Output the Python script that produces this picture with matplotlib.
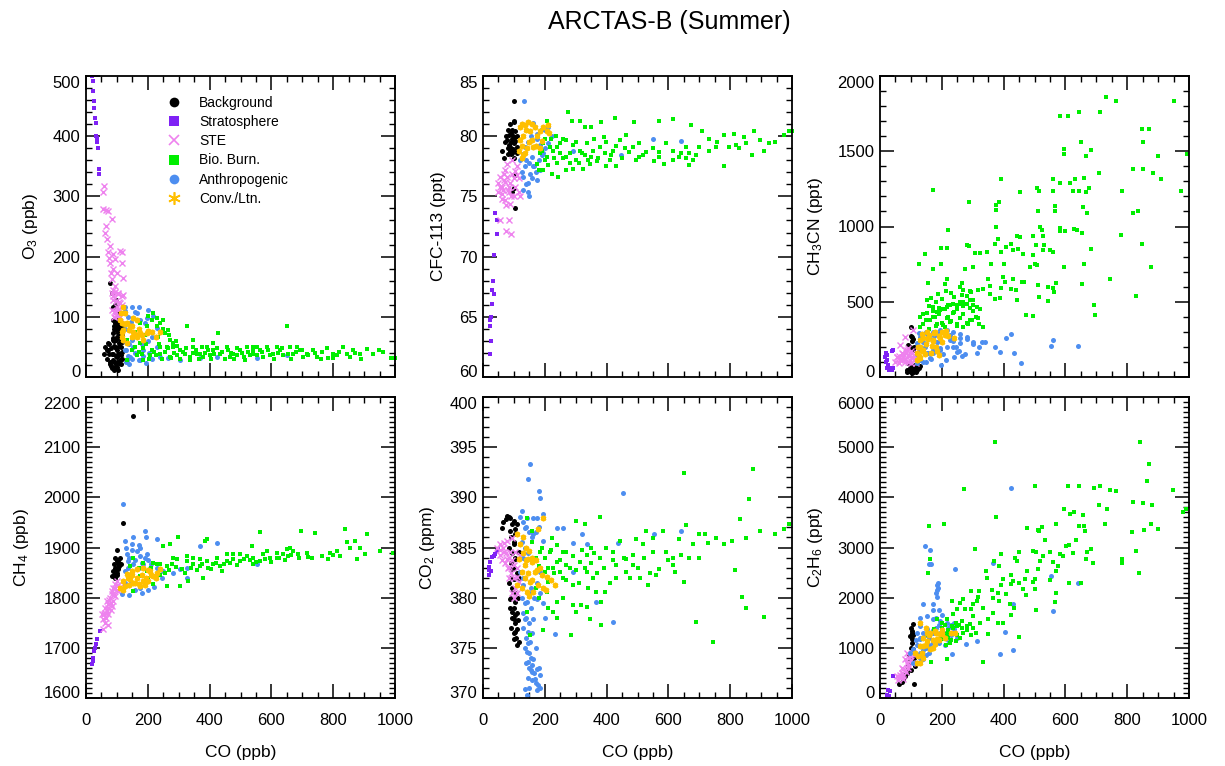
import matplotlib
matplotlib.use("Agg")
import matplotlib.pyplot as plt
from matplotlib.lines import Line2D
from matplotlib.ticker import MultipleLocator

plt.rcParams['font.family'] = ['Liberation Sans', 'DejaVu Sans']
plt.rcParams['mathtext.default'] = 'regular'

# categories (legend order)
categories = ['Background', 'Stratosphere', 'STE', 'Bio. Burn.', 'Anthropogenic', 'Conv./Ltn.']

# ---- O3 vs CO  (CO ppb, O3 ppb) ----
o3_bkg = [(78,156),(83,140),(88,117),(94,95),(99,84),(105,89),(88,73),(99,67),(107,56),(94,50),
          (83,39),(99,34),(108,39),(88,28),(78,22),(94,17),(101,25),(67,45),(61,50),(58,39),
          (72,56),(106,106),(97,128),(105,73),(91,84),(86,61),(110,28),(105,11),(83,17),
          (100,100),(95,120),(103,110),(92,60),(100,45),(108,70),
          (88,95),(95,90),(103,92),(110,88),(90,80),(98,78),(106,80),(113,76),(88,65),(96,62),
          (104,66),(112,62),(90,52),(98,48),(106,52),(114,50),(88,38),(96,35),(104,38),(112,36),
          (90,25),(98,22),(106,24),(113,22),(84,15),(92,12),(100,16),(70,45),(75,38),(68,30),
          (78,25),(74,55),(80,48),(80,18),(115,30),(117,42),(116,58),(118,70),(117,85)]
o3_strat = [(18,500),(24,492),(22,475),(26,458),(27,447),(29,430),(31,422),(33,400),(35,397),
            (37,391),(40,380),(43,346),(43,338)]
o3_ste = [(58,318),(54,307),(56,279),(65,277),(72,276),(83,263),(65,251),(61,240),(69,229),(78,218),
          (72,207),(86,204),(110,210),(115,208),(115,190),(94,196),(78,190),(88,179),(99,173),(119,165),
          (83,162),(94,151),(105,140),(121,137),(88,134),(99,117),(110,123),(94,106),(105,101),(88,145),
          (80,173),(75,198),(85,140),(95,142),(105,138),(115,135),(88,128),(98,126),(108,124),(118,120),
          (85,112),(95,110),(105,112),(115,108),(90,100),(100,102),(110,99)]
o3_bio = [(132,61),(132,28),(148,45),(164,36),(175,56),(180,39),(196,84),(202,101),(218,106),(229,84),
          (239,89),(250,95),(233,67),(256,73),(266,78),(220,42),(239,39),(261,50),(283,50),(304,45),
          (326,84),(321,39),(347,50),(369,39),(390,50),(412,45),(428,73),(434,39),(455,50),(477,39),
          (499,45),(520,50),(542,39),(563,45),(585,50),(606,39),(628,45),(649,84),(661,50),(671,39),
          (693,45),(714,39),(736,45),(763,42),(784,31),(800,39),(833,50),(844,39),(865,45),(887,39),
          (909,47),(949,45),(986,31),(1000,31),(207,36),(186,28),(272,34),(294,36),(337,34),(358,39),
          (380,34),(401,36),(466,34),(488,36),(510,34),(531,36),(553,50),(574,34),(595,36),(617,50),
          (639,36),(682,50),(703,34),(747,34),(811,36),(855,34),(930,39),(800,31),(542,50),(412,56),
          (347,61),(283,56),(272,61),(239,50),(212,95),
          (160,50),(170,42),(185,48),(195,55),(205,30),(215,45),(225,36),(235,55),(245,30),(255,42),
          (265,48),(275,32),(285,40),(295,52),(305,30),(315,42),(325,48),(335,28),(345,40),(355,45),
          (365,30),(375,50),(385,40),(395,45),(405,30),(415,38),(425,48),(440,42),(450,30),(460,45),
          (470,40),(480,30),(490,48),(505,40),(515,28),(525,42),(540,45),(555,36),(570,42),(590,45),
          (610,30),(620,40),(635,48),(655,38),(665,30),(680,42),(700,45),(720,36),(740,40),(760,30),
          (780,48),(820,42),(870,40),(890,30),(960,42),(160,75),(175,90),(190,70),(230,98),(250,80),
          (270,70),(290,60)]
o3_anth = [(126,117),(148,116),(172,116),(202,112),(164,106),(196,98),(218,101),(126,45),(142,34),(175,28),
           (207,31),(239,34),(266,31),(186,45),(229,50),(132,28),(153,50),(202,59),(304,28),(369,31),
           (423,34),(553,31),(649,36),(229,81),(212,67),
           (125,110),(135,100),(145,92),(160,108),(175,95),(190,90),(125,60),(130,45),(135,35),(128,25),
           (140,22),(150,30),(160,40),(170,28),(185,35),(195,24),(205,40),(215,30),(140,55),(150,62),
           (180,55),(125,80)]
o3_conv = [(119,117),(126,106),(110,95),(132,89),(121,78),(142,84),(153,75),(164,95),(175,73),(196,73),
           (212,75),(186,61),(148,67),(115,67),(132,56),(164,67),(153,98),(112,106),
           (115,90),(118,75),(125,88),(140,78),(150,84),(160,72),(170,80),(180,70),(200,76),(225,66),
           (240,74),(120,62)]

# ---- CFC-113 vs CO (ppt) ----
cfc_bkg = [(101,82.9),(99,81.3),(104,80.4),(109,80.0),(77,79.7),(61,78.8),(67,78.2),(88,79.1),(104,78.8),
           (93,78.6),(83,80.1),(99,79.4),(109,78.6),(104,76.8),(99,75.7),(104,74.0),(93,75.4),(110,79.1),
           (90,80.3),(95,79.8),(85,79.3),(100,78.2),(80,78.5),
           (75,80.0),(82,80.5),(88,81.0),(95,80.5),(100,81.2),(92,79.5),(98,80.0),(105,79.6),(80,79.0),
           (86,78.8),(92,78.5),(98,78.9),(70,79.5),(104,79.9)]
cfc_strat = [(24,61.9),(26,63.0),(24,64.2),(26,65.0),(29,66.1),(34,66.9),(32,68.0),(34,70.1),(45,71.9),
             (45,73.0),(40,73.6),(24,64.7),(29,67.2)]
cfc_ste = [(50,76.1),(56,75.8),(67,76.4),(77,76.6),(88,76.1),(104,75.8),(115,75.4),(61,75.2),(72,74.7),
           (88,74.4),(99,75.0),(109,77.5),(77,77.7),(93,78.0),(67,76.9),(50,75.4),(56,73.0),(83,73.0),
           (75,72.1),(91,71.9),(120,75.0),(83,75.4),
           (55,76.6),(62,75.8),(70,76.2),(80,75.5),(90,75.0),(100,76.5),(110,76.8),(60,74.8),(75,74.3),
           (85,75.8),(95,76.9),(105,77.1),(70,77.2),(115,76.5),(65,75.5)]
cfc_bio = [(206,81.3),(276,82.0),(287,81.3),(313,81.3),(330,80.8),(351,80.8),(383,81.2),(426,81.5),(490,81.2),
           (571,81.3),(614,81.4),(673,80.9),(710,80.4),(732,79.8),(758,79.5),(780,80.1),(812,80.2),(845,79.9),
           (876,80.4),(898,79.7),(946,79.5),(973,80.1),(991,80.4),(908,78.8),(869,78.4),(780,77.5),(667,77.6),
           (657,78.2),(587,77.7),(555,77.9),(506,78.3),(431,77.5),(399,77.5),(345,77.7),(324,77.3),(292,77.3),
           (270,77.2),(244,76.6),(222,76.9),(195,77.2),(174,77.7),(185,78.6),(206,78.3),(227,78.8),(249,79.4),
           (270,79.7),(292,79.3),(313,78.8),(335,79.4),(356,78.8),(378,79.1),(399,79.5),(421,78.8),(442,79.7),
           (464,80.1),(485,79.1),(506,79.4),(528,78.7),(549,79.0),(571,78.3),(592,79.4),(614,78.8),(635,78.3),
           (657,79.1),(678,78.0),(699,79.1),(732,78.8),(753,79.1),(796,79.1),(818,79.3),(828,79.0),(850,79.4),
           (869,78.4),(925,79.4),(217,79.1),(236,80.0),(195,79.4),(260,78.2),(281,78.6),(302,78.0),(330,78.4),
           (351,78.3),(372,78.2),(394,78.6),(415,78.4),(474,78.7),(496,78.0),(517,78.4),(571,78.7),(614,78.0),
           (641,78.6),(667,78.6),(689,78.4),(1000,80.4),
           (200,78.0),(210,77.6),(220,79.8),(230,78.2),(240,77.8),(250,78.6),(260,79.8),(270,78.3),(280,77.8),
           (300,79.5),(310,77.8),(320,78.6),(340,78.0),(360,79.8),(370,77.9),(390,79.9),(410,78.0),(430,79.2),
           (450,78.2),(460,79.0),(200,79.8),(190,78.8),(180,77.2),(240,79.1)]
cfc_anth = [(133,82.9),(120,78.0),(136,77.5),(152,76.9),(174,76.4),(147,76.1),(147,75.4),(131,76.6),(163,77.5),
            (185,77.2),(195,78.6),(211,79.4),(222,80.0),(163,81.1),(190,80.6),(174,79.8),(292,78.8),(447,78.4),
            (549,79.8),(641,79.6),(136,79.1),
            (125,77.0),(130,78.5),(140,78.0),(150,77.8),(160,78.3),(170,77.0),(180,78.0),(190,78.4),(200,79.0),
            (145,79.5),(155,80.0),(175,80.2),(185,79.3),(200,80.5),(210,80.8),(160,76.5),(140,76.0),(130,75.5),
            (150,75.0),(165,77.5)]
cfc_conv = [(120,80.8),(136,80.9),(152,80.4),(168,80.8),(185,80.4),(206,80.4),(120,79.7),(115,78.8),(126,78.2),
            (142,79.0),(163,79.1),(185,79.0),(157,79.7),(131,78.4),
            (125,81.0),(140,80.5),(145,81.2),(160,81.0),(175,80.0),(195,80.8),(130,80.0),(150,79.5),(170,79.2),
            (190,79.6),(210,80.9),(215,80.3),(125,79.2),(135,78.6)]

# ---- CH3CN vs CO (ppt) ----
cn_bkg = [(99,333),(102,267),(92,212),(97,201),(108,179),(92,91),(97,57),(113,80),(86,46),(102,24),
          (119,68),(88,35),(108,35),(100,80),(105,60),(110,50),(95,40),(120,45),(125,60),(130,70),
          (115,30),(100,30),(105,240),(110,200),(100,270),(108,250)]
cn_strat = [(41,179),(22,146),(22,113),(27,80),(32,57),(43,57),(22,57),(20,100),(25,70),(30,45),
            (38,45),(16,130),(20,160),(40,175)]
cn_ste = [(65,212),(81,267),(108,311),(54,135),(70,157),(86,179),(102,157),(65,113),(81,102),(97,113),
          (113,135),(124,179),(75,135),(92,146),(50,100),(60,90),(70,110),(80,120),(90,100),(100,90),
          (60,140),(75,150),(85,160),(95,140),(105,130),(110,110),(115,95),(65,120),(55,130),(90,190),
          (100,170),(80,180)]
cn_bio = [(733,1860),(763,1836),(582,1737),(609,1737),(644,1758),(711,1758),(950,1836),(849,1647),(871,1647),
          (852,1563),(650,1563),(596,1515),(596,1482),(684,1510),(668,1470),(900,1470),(994,1482),(819,1382),
          (852,1382),(884,1356),(911,1316),(709,1356),(560,1316),(582,1287),(614,1287),(630,1316),(661,1320),
          (393,1316),(172,1243),(453,1232),(509,1254),(515,1234),(560,1238),(625,1238),(644,1238),(666,1232),
          (677,1254),(784,1238),(975,1238),(288,1164),(375,1146),(384,1164),(567,1133),(567,1100),(511,1100),
          (657,1128),(671,1089),(819,1089),(836,1106),(374,1111),(517,1000),(523,978),(584,989),(584,967),
          (598,967),(627,985),(636,974),(655,956),(781,941),(847,881),(876,731),(830,539),(744,654),(684,848),
          (661,753),(655,620),(693,481),(696,411),(596,731),(560,592),(563,565),(571,625),(543,598),(543,506),
          (515,532),(512,609),(474,415),(496,406),(442,510),(440,576),(431,651),(458,629),(465,633),(501,749),
          (485,731),(463,819),(431,841),(445,852),(425,881),(442,934),(453,929),(494,936),(504,874),(530,874),
          (550,841),(528,841),(496,808),(507,742),(560,830),(526,934),(377,996),(382,918),(371,881),(393,830),
          (409,863),(401,753),(399,665),(404,631),(425,587),(388,525),(371,516),(390,592),(355,603),(348,653),
          (359,753),(323,824),(345,830),(307,824),(280,874),(288,872),(302,731),(275,720),(264,625),(269,576),
          (291,570),(296,565),(318,576),(334,587),(355,554),(264,543),(259,598),(216,857),(219,974),(216,654),
          (210,620),(196,753),(199,857),(172,720),(145,815),(127,749),(156,625),(164,525),(188,554),(213,572),
          (129,400),(151,422),(172,466),(183,433),(194,444),(205,455),(216,466),(226,477),(237,488),(248,477),
          (259,488),(269,499),(280,488),(291,510),(302,477),(313,466),(323,455),(318,389),(299,378),(334,333),
          (129,333),(140,355),(162,378),(183,355),(205,344),(226,366),(248,355),(269,333),(285,355),(237,422),
          (216,389),(178,400),(151,510),
          (130,330),(140,350),(150,380),(160,320),(170,400),(180,340),(190,420),(200,360),(210,330),(220,400),
          (230,370),(240,430),(250,340),(260,390),(270,420),(280,360),(290,380),(300,440),(310,400),(320,350),
          (160,470),(180,500),(200,520),(220,480),(240,530),(260,500),(280,540),(300,510),(230,560),(210,450),
          (190,460),(250,450),(270,470),(290,460),(170,440),(140,420)]
cn_anth = [(119,223),(129,267),(151,289),(172,300),(194,311),(216,311),(237,300),(259,289),(280,267),(302,234),
           (329,234),(129,179),(151,157),(172,157),(194,179),(216,201),(237,201),(129,135),(140,102),(162,124),
           (119,91),(129,113),(197,80),(248,168),(275,152),(313,157),(372,197),(388,168),(409,256),(423,285),
           (434,161),(457,91),(555,205),(561,245),(641,205),(183,234),(226,245),(259,223),
           (125,290),(135,250),(145,200),(155,160),(165,120),(175,270),(185,230),(195,190),(205,150),(215,110),
           (225,280),(235,240),(245,200),(255,170),(265,140),(140,230),(150,300),(160,260),(190,290),(210,300),
           (230,250),(170,180),(120,150),(130,110),(150,100),(280,250),(300,220),(320,200),(340,230),(260,260),
           (240,130)]
cn_conv = [(119,157),(124,201),(129,245),(135,289),(153,300),(178,300),(212,305),(240,260),(172,245),(156,256),
           (194,256),(167,205),(191,146),(129,124),(119,113),(140,179),
           (130,200),(140,260),(150,220),(160,280),(170,240),(180,200),(190,270),(200,230),(210,280),(145,150),
           (165,160),(185,170),(135,170),(125,140),(155,250),(175,290),(200,300),(220,270)]

# ---- CH4 vs CO (ppb) ----
ch4_bkg = [(153,2163),(121,1948),(101,1895),(94,1880),(99,1873),(105,1867),(94,1860),(88,1853),(83,1843),
           (99,1850),(94,1840),(110,1880),(105,1857),(108,1863),
           (90,1845),(96,1855),(102,1862),(108,1870),(100,1845),(92,1868),(104,1875),(112,1868)]
ch4_strat = [(18,1667),(22,1680),(26,1693),(32,1707),(37,1717),(45,1733),(29,1700),(24,1673)]
ch4_ste = [(51,1767),(61,1780),(67,1793),(78,1800),(83,1813),(88,1820),(94,1827),(99,1833),(72,1767),
           (56,1757),(83,1783),(67,1773),(94,1803),(105,1813),(58,1767),(54,1737),(72,1787),(88,1793),
           (60,1770),(70,1780),(80,1790),(90,1805),(100,1815),(105,1825),(75,1795),(85,1808),(65,1760),
           (95,1820),(110,1822),(62,1750),(70,1745),(80,1775)]
ch4_bio = [(153,1880),(142,1863),(153,1813),(175,1843),(196,1853),(218,1827),(229,1867),(250,1903),(261,1863),
           (261,1823),(272,1907),(283,1880),(299,1920),(304,1823),(326,1873),(331,1833),(347,1867),(369,1863),
           (380,1840),(385,1913),(390,1917),(412,1867),(434,1863),(439,1853),(455,1873),(477,1877),(499,1873),
           (520,1883),(542,1880),(536,1903),(563,1930),(563,1873),(574,1887),(585,1893),(595,1880),(617,1890),
           (639,1887),(653,1883),(671,1893),(687,1887),(695,1933),(730,1880),(741,1928),(763,1883),(784,1877),
           (800,1885),(811,1893),(838,1937),(844,1910),(855,1900),(871,1913),(876,1877),(887,1900),(903,1887),
           (909,1927),(952,1893),(995,1890),(822,1883),(714,1890),(660,1900),(617,1880),(499,1887),(477,1887),
           (423,1880),(369,1877),(347,1880),(326,1883),(294,1877),(278,1867),(239,1867),(218,1870),(390,1873),
           (455,1887),(542,1867),(649,1897),(790,1890),
           (170,1860),(185,1870),(200,1840),(210,1860),(240,1845),(255,1850),(270,1855),(290,1862),(310,1858),
           (320,1850),(340,1860),(360,1855),(375,1868),(395,1860),(405,1858),(420,1870),(445,1867),(465,1870),
           (490,1865),(510,1878),(530,1875),(550,1872),(580,1878),(600,1872),(625,1880),(645,1875),(665,1885),
           (690,1880),(720,1882)]
ch4_anth = [(119,1987),(126,1913),(153,1920),(148,1907),(175,1900),(191,1933),(194,1920),(132,1887),(164,1893),
            (175,1883),(196,1887),(229,1917),(137,1873),(153,1867),(186,1867),(207,1860),(126,1853),(142,1827),
            (175,1820),(115,1807),(250,1853),(283,1850),(304,1857),(326,1840),(369,1903),(423,1908),(326,1860),
            (553,1867),
            (130,1900),(140,1880),(150,1895),(160,1875),(170,1905),(180,1870),(190,1880),(200,1875),(210,1868),
            (135,1860),(145,1845),(160,1815),(180,1810),(200,1815),(220,1822),(125,1830),(120,1815),(140,1805),
            (170,1860),(230,1860),(245,1840)]
ch4_conv = [(110,1820),(121,1833),(132,1847),(148,1853),(164,1857),(186,1860),(207,1853),(229,1850),(142,1837),
            (164,1840),(186,1833),(175,1823),(202,1833),(218,1843),(239,1857),(126,1823),(153,1830),
            (120,1815),(140,1825),(160,1830),(180,1845),(195,1840),(210,1845),(225,1840),(170,1828),(150,1845),
            (135,1840),(190,1825),(200,1855)]

# ---- CO2 vs CO (ppm) ----
co2_bkg = [(77,388.1),(88,387.9),(99,387.6),(109,387.3),(61,386.9),(88,386.6),(104,386.3),(99,385.3),(104,383.9),
           (93,382.9),(99,381.9),(97,380.6),(104,379.6),(93,378.6),(99,377.9),(109,376.9),(115,375.6),(104,376.6),
           (109,381.3),(88,379.9),(104,378.3),(115,384.6),(99,375.9),(109,375.3),
           (65,387.5),(75,387.8),(85,388.0),(95,387.3),(105,386.8),(90,386.0),(100,385.5),(85,385.0),(95,384.5),
           (105,384.0),(90,383.5),(100,383.0),(110,382.5),(90,382.0),(95,381.0),(105,380.5),(90,380.0),(100,379.0),
           (110,378.5),(95,378.0),(105,377.5),(90,377.0),(100,376.5),(108,376.0),(112,377.8),(112,380.0),
           (115,382.0),(85,381.5),(88,379.0)]
co2_strat = [(18,382.8),(24,383.6),(29,384.1),(40,384.4),(50,384.9),(21,383.1),(20,382.3),(25,382.7),
             (35,384.2),(45,384.7)]
co2_ste = [(56,385.3),(67,385.4),(77,385.6),(88,384.6),(99,383.3),(109,382.1),(115,381.6),(77,383.9),(67,384.6),
           (93,385.9),(104,384.6),(56,384.3),(83,383.1),(120,384.3),(109,383.0),
           (45,385.0),(55,384.8),(65,385.0),(75,384.5),(85,384.0),(95,383.8),(60,383.8),(70,383.5),(80,383.0),
           (90,382.5),(100,382.0),(105,381.0),(95,380.5),(100,380.0),(110,380.5),(85,382.0)]
co2_bio = [(142,387.9),(158,386.6),(185,384.6),(142,378.6),(152,376.3),(195,376.8),(206,380.6),(217,384.6),
           (238,383.6),(249,382.6),(270,383.3),(292,381.3),(302,387.6),(329,387.3),(292,379.3),(302,378.6),
           (286,376.3),(378,388.0),(383,377.3),(238,379.6),(227,378.6),(270,384.6),(313,383.6),(335,382.6),
           (356,382.0),(378,384.0),(399,385.0),(421,384.6),(431,383.3),(442,385.6),(464,382.6),(485,384.3),
           (496,385.8),(507,382.0),(517,385.3),(528,386.6),(549,384.6),(571,382.9),(581,386.6),(592,384.6),
           (614,384.0),(635,385.8),(657,387.2),(651,381.6),(678,385.3),(689,377.6),(700,384.0),(727,385.4),
           (743,375.6),(754,385.9),(780,385.3),(807,385.6),(815,382.8),(832,387.8),(837,380.1),(850,385.9),
           (861,389.8),(873,392.8),(898,386.6),(908,378.1),(946,386.3),(973,386.8),(989,387.3),(651,392.4),
           (431,382.0),(383,379.6),(394,380.6),(338,379.1),(533,381.3),(560,382.3),(614,383.3),(485,383.3),
           (464,383.9),(335,384.3),(351,385.0),(260,384.6),(227,383.0),(201,382.6),(211,381.6),(222,385.9),
           (367,380.6),(346,377.9),(318,379.3),(549,385.9),(667,384.0),(850,379.0),
           (160,385.5),(170,384.0),(180,383.2),(190,385.0),(200,384.0),(210,383.0),(220,384.8),(230,382.5),
           (240,385.2),(250,383.8),(260,382.0),(270,381.8),(280,383.0),(290,384.2),(300,382.8),(310,381.5),
           (320,384.8),(330,383.0),(340,381.0),(350,383.5),(360,384.5),(370,382.5),(390,383.0),(410,381.5),
           (420,383.8),(455,384.0),(475,382.0),(500,383.0),(520,384.0),(540,382.5),(600,383.8),(620,382.6),
           (640,384.3),(700,386.3),(720,386.3),(170,381.0),(180,380.0),(210,379.0),(240,378.0),(260,380.0)]
co2_anth = [(126,388.6),(147,391.8),(152,393.3),(182,390.6),(185,389.9),(195,388.3),(142,387.9),(163,387.9),
            (174,387.9),(136,386.9),(163,386.3),(195,385.6),(238,386.9),(260,386.9),(292,385.4),(319,386.3),
            (335,385.3),(367,379.6),(421,377.6),(437,385.4),(453,390.4),(555,386.3),(641,386.6),(292,382.6),
            (120,382.6),(131,381.3),(142,379.6),(136,377.9),(147,376.6),(152,375.6),(142,374.6),(147,373.6),
            (158,372.6),(169,371.9),(179,371.3),(136,370.9),(142,370.3),(163,373.9),(174,372.9),(185,372.3),
            (158,380.6),(174,379.9),(163,377.9),(233,376.4),(185,382.6),
            (120,388.0),(130,387.5),(140,387.0),(150,386.5),(160,386.0),(170,386.5),(180,387.0),(125,385.5),
            (135,385.0),(145,384.5),(128,384.0),(130,382.0),(125,380.0),(135,379.5),(145,380.5),(155,381.0),
            (165,380.0),(175,381.5),(185,380.5),(195,379.5),(130,378.5),(140,378.0),(150,377.5),(130,377.0),
            (140,376.0),(135,375.0),(145,375.5),(150,374.5),(155,374.0),(140,373.5),(150,373.0),(160,373.3),
            (165,372.5),(170,371.5),(175,370.8),(145,372.0),(150,371.0),(155,372.8),(160,371.8),(185,371.0),
            (180,373.0),(170,375.0),(160,376.5),(155,379.0),(200,378.0)]
co2_conv = [(109,386.3),(120,385.3),(115,383.9),(126,382.6),(109,381.3),(136,383.3),(147,383.9),(158,383.6),
            (169,382.6),(152,381.6),(179,381.3),(190,382.3),(206,382.1),(233,381.3),(195,387.9),(179,386.8),
            (142,380.6),(163,380.6),
            (130,386.0),(140,385.0),(150,384.7),(160,384.0),(170,383.8),(135,382.0),(145,382.5),(150,380.2),
            (160,381.8),(175,382.8),(185,383.0),(195,381.0),(205,380.8),(220,381.8),(130,384.5),(125,381.0),
            (140,383.8)]

# ---- C2H6 vs CO (ppt) ----
c2h6_bkg = [(108,1470),(102,1335),(97,1235),(102,1170),(108,970),(97,770),(92,570),(86,500),(75,370),
            (63,280),(81,435),(110,270),(113,635),(100,1400),(105,1300),(105,1100),(100,1000),(95,850),
            (110,800),(115,700),(90,650),(80,450),(70,320),(100,550),(108,1250)]
c2h6_strat = [(27,167),(32,133),(22,67),(30,33),(43,445)]
c2h6_ste = [(54,435),(65,465),(75,570),(86,700),(97,835),(108,900),(81,770),(70,600),(92,600),(59,365),
            (75,435),(102,700),(86,900),(60,420),(70,500),(80,560),(90,650),(100,750),(110,850),(85,520),
            (95,800),(75,380)]
c2h6_bio = [(372,5100),(841,5100),(871,4670),(864,4335),(273,4170),(501,4235),(607,4235),(644,4235),(694,4180),
            (713,4235),(744,4155),(763,4135),(948,4150),(819,3900),(852,3890),(881,3850),(709,3855),(735,3770),
            (596,3770),(616,3670),(628,3700),(657,3650),(981,3715),(991,3770),(377,3600),(160,3435),(208,3470),
            (571,3470),(523,3415),(512,3355),(477,3380),(516,3320),(661,3435),(665,3320),(644,3435),(633,3155),
            (729,3470),(876,3470),(900,3370),(817,3300),(853,3355),(309,2980),(369,2735),(385,2635),(391,2870),
            (436,2800),(442,2735),(450,2920),(424,2450),(429,2335),(450,2300),(463,2180),(425,2270),(390,2250),
            (397,2380),(345,2400),(361,2155),(381,2100),(366,2000),(384,1935),(409,2070),(420,1870),(434,1800),
            (423,1655),(450,1220),(366,1700),(334,1800),(313,1935),(302,1870),(296,1770),(275,1780),(269,1970),
            (259,1890),(248,1770),(237,1670),(232,1930),(216,1570),(201,1335),(216,1270),(199,1170),(175,1370),
            (164,715),(216,780),(226,1100),(246,1130),(267,1300),(280,1435),(302,1635),(323,1500),(296,1250),
            (332,715),(351,1270),(381,1500),(397,1500),(506,1755),(566,1920),(496,2315),(501,2380),(512,2580),
            (518,2735),(528,2835),(550,2920),(561,2720),(575,2635),(582,2870),(593,2835),(601,3020),(612,3045),
            (623,2900),(671,2920),(684,2970),(690,2700),(668,2770),(568,2100),(612,2290),(651,2300),(501,2170),
            (472,2050),(470,2370),(476,2535),(550,2350),(571,2535),(533,3155),(496,2935),(504,2920),(784,2770),
            (782,2700),(827,2935),(839,2500),(343,2535),(320,2135),(296,2135),(316,2015),(348,1570),(183,1570),
            (232,1435),(250,1435),(264,1535),(221,1190),(156,1250),(140,1170),(191,1270),(154,2500),(162,2770),
            (200,1500),(210,1450),(220,1350),(235,1400),(245,1500),(255,1450),(265,1400),(240,1300),(250,1250),
            (230,1150),(215,1050),(260,1200),(280,1350),(290,1480),(300,1400),(310,1300),(200,1400)]
c2h6_anth = [(145,3020),(162,2950),(159,2680),(164,2680),(242,2570),(189,2300),(189,2200),(186,2250),(183,2020),
             (140,1870),(170,1870),(192,1750),(129,1600),(151,1635),(172,1570),(194,1535),(216,1500),(129,1435),
             (151,1370),(172,1300),(194,1300),(129,1170),(108,970),(151,1100),(129,900),(108,700),(140,770),
             (232,880),(277,1080),(313,1130),(406,1315),(388,870),(431,1870),(431,965),(366,2700),(424,4195),
             (555,2435),(561,1735),(641,2290),(119,1300),(97,900),
             (130,1200),(140,1300),(150,1250),(160,1200),(170,1350),(180,1400),(190,1450),(200,1350),(210,1300),
             (220,1400),(230,1450),(240,1380),(150,1000),(160,1050),(170,1100),(180,1150),(190,1100),(200,1200),
             (210,1050),(220,1150),(230,1250),(140,950),(150,850),(160,900),(130,800),(120,1050),(115,1150),
             (250,1200),(240,1500),(180,1600),(170,1750),(200,1650),(180,2100),(185,2150)]
c2h6_conv = [(129,1500),(151,1300),(162,1300),(178,1335),(194,1270),(129,1035),(140,1035),(162,970),(183,1170),
             (124,835),(119,700),(113,900),(242,1290),(178,1070),(151,1135),
             (140,1200),(160,1250),(170,1150),(180,1300),(200,1280),(210,1200),(190,1150),(150,1050),(170,1000),
             (135,900),(140,800),(130,700),(150,1400),(200,1350),(230,1300)]

# category styles: colour, marker, marker size, edge width
styles = {
    'Background':    ('black',   'o', 3.6, 0.0),
    'Stratosphere':  ('#7f22f5', 's', 3.2, 0.0),
    'STE':           ('#ee82ee', 'x', 3.8, 1.0),
    'Bio. Burn.':    ('#00ee00', 's', 3.2, 0.0),
    'Anthropogenic': ('#4d8ef0', 'o', 3.6, 0.0),
    'Conv./Ltn.':    ('#ffbf00', (6, 2, 0), 4.0, 1.3),
}
draw_order = ['Background', 'Stratosphere', 'STE', 'Anthropogenic', 'Bio. Burn.', 'Conv./Ltn.']

panels = [
    # (col, row, series by category, ylim, major, minor, ylabel)
    (0, 0, [o3_bkg, o3_strat, o3_ste, o3_bio, o3_anth, o3_conv], (0, 500), 100, 20, 'O$_3$ (ppb)'),
    (1, 0, [cfc_bkg, cfc_strat, cfc_ste, cfc_bio, cfc_anth, cfc_conv], (60, 85), 5, 1, 'CFC-113 (ppt)'),
    (2, 0, [cn_bkg, cn_strat, cn_ste, cn_bio, cn_anth, cn_conv], (0, 2000), 500, 100, 'CH$_3$CN (ppt)'),
    (0, 1, [ch4_bkg, ch4_strat, ch4_ste, ch4_bio, ch4_anth, ch4_conv], (1600, 2200), 100, 10, 'CH$_4$ (ppb)'),
    (1, 1, [co2_bkg, co2_strat, co2_ste, co2_bio, co2_anth, co2_conv], (370, 400), 5, 1, 'CO$_2$ (ppm)'),
    (2, 1, [c2h6_bkg, c2h6_strat, c2h6_ste, c2h6_bio, c2h6_anth, c2h6_conv], (0, 6000), 1000, 100, 'C$_2$H$_6$ (ppt)'),
]

W, H = 1225, 766
fig = plt.figure(figsize=(W / 100, H / 100), dpi=100)

lefts = [86, 483, 880]
rows = [(76, 377), (397, 698)]
width = 309
axes = []

for col, row, series, ylim, major, minor, ylabel in panels:
    top, bot = rows[row]
    ax = fig.add_axes([lefts[col] / W, 1 - bot / H, width / W, (bot - top) / H])
    axes.append((ax, ylim))
    data = dict(zip(categories, series))
    for cat in draw_order:
        pts = data[cat]
        color, marker, ms, mew = styles[cat]
        xs = [p[0] for p in pts]
        ys = [p[1] for p in pts]
        ax.plot(xs, ys, ls='none', marker=marker, ms=ms, mew=mew,
                color=color, mec=color, mfc=color, clip_on=(cat != 'Bio. Burn.'))

    ax.set_xlim(0, 1000)
    ax.set_ylim(*ylim)
    ax.xaxis.set_major_locator(MultipleLocator(200))
    ax.xaxis.set_minor_locator(MultipleLocator(50))
    ax.yaxis.set_major_locator(MultipleLocator(major))
    ax.yaxis.set_minor_locator(MultipleLocator(minor))
    ax.tick_params(which='both', direction='in', top=True, right=True, labelsize=12)
    ax.tick_params(which='major', length=10, width=1.1)
    ax.tick_params(which='minor', length=4.5, width=1.0)
    ax.tick_params(axis='x', pad=11)
    ax.tick_params(axis='y', pad=4)
    for s in ax.spines.values():
        s.set_linewidth(1.3)
    ax.set_ylabel(ylabel, fontsize=12.5, labelpad=9)
    if row == 1:
        ax.set_xlabel('CO (ppb)', fontsize=12.5, labelpad=12)
    else:
        ax.tick_params(axis='x', labelbottom=False)

    if col == 0 and row == 0:
        handles = []
        for cat in categories:
            color, marker, ms, mew = styles[cat]
            big = {'o': 7, 's': 6.5, 'x': 7}.get(marker, 9) if isinstance(marker, str) else 9
            handles.append(Line2D([], [], ls='none', marker=marker, ms=big,
                                  mew=1.2 if mew else 0, color=color, mfc=color, mec=color))
        ax.legend(handles, categories, loc='upper left', bbox_to_anchor=(0.262, 0.935),
                  frameon=False, fontsize=10, handlelength=1.0, handletextpad=1.3,
                  labelspacing=0.38, borderpad=0, borderaxespad=0)

fig.text(669 / W, 1 - 22 / H, 'ARCTAS-B (Summer)', ha='center', va='center', fontsize=18)

# the end labels of each y axis sit inside the frame, as in the original
fig.canvas.draw()
for ax, (lo, hi) in axes:
    locs = ax.yaxis.get_majorticklocs()
    for loc, tick in zip(locs, ax.yaxis.get_major_ticks(len(locs))):
        if abs(loc - lo) < 1e-9:
            tick.label1.set_verticalalignment('baseline')
        elif abs(loc - hi) < 1e-9:
            tick.label1.set_verticalalignment('top')

fig.savefig('out.png', dpi=100)
